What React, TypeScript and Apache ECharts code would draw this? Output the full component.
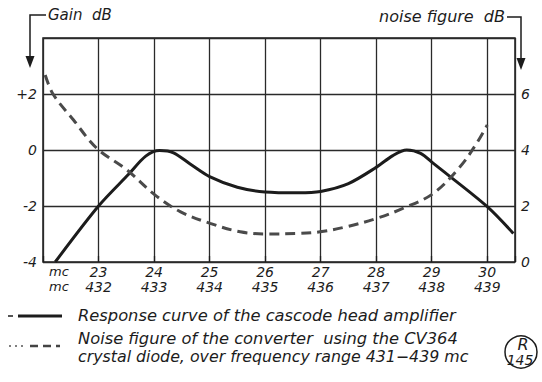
import React, { useEffect, useRef } from "react";
import * as echarts from "echarts";

const gainX = [22.22, 23.0, 23.55, 23.85, 24.1, 24.35, 24.65, 25.0, 25.5, 26.0, 26.6, 27.0, 27.5, 28.0, 28.3, 28.55, 28.8, 29.03, 30.0, 30.47];
const gainY = [-4, -2, -0.85, -0.22, -0.02, -0.1, -0.5, -0.95, -1.33, -1.5, -1.53, -1.48, -1.2, -0.62, -0.2, 0, -0.12, -0.48, -2.02, -2.98];

const noiseX = [22.04, 22.18, 22.55, 22.97, 23.51, 24.02, 24.47, 25.01, 25.55, 26.03, 26.6, 26.99, 27.47, 28.01, 28.49, 29.03, 29.51, 29.81, 30.0];
const noiseY = [6.68, 6.0, 5.07, 4.06, 3.29, 2.39, 1.8, 1.38, 1.08, 1.0, 1.02, 1.08, 1.26, 1.56, 1.92, 2.45, 3.4, 4.24, 4.89];

const xTicks = [23, 24, 25, 26, 27, 28, 29, 30];
const xTicksMc = [432, 433, 434, 435, 436, 437, 438, 439];
const gainTickLabels: Record<string, string> = { "-4": "-4", "-2": "-2", "0": "0", "2": "+2", "4": "" };
const noiseTickLabels: Record<string, string> = { "0": "0", "2": "2", "4": "4", "6": "6", "8": "" };

const legendSolid = "Response curve of the cascode head amplifier";
const legendDashed1 = "Noise figure of the converter  using the CV364";
const legendDashed2 = "crystal diode, over frequency range 431\u2212439 mc";

const FONT = "DejaVu Sans";
const INK = "#1c1c1c";

export default function App() {
  const ref = useRef<HTMLDivElement>(null);
  useEffect(() => {
    if (!ref.current) return;
    const chart = echarts.init(ref.current, undefined, { renderer: "svg" });
    const txt = (x: number, y: number, text: string, size: number, extra: any = {}) => ({
      type: "text",
      x,
      y,
      style: {
        text,
        fill: INK,
        fontFamily: FONT,
        fontStyle: "italic",
        fontSize: size,
        verticalAlign: "middle",
        ...extra,
      },
    });
    chart.setOption({
      animation: false,
      backgroundColor: "#ffffff",
      grid: {
        left: 43,
        right: 27,
        top: 38,
        bottom: 120,
        show: true,
        borderColor: INK,
        borderWidth: 1.5,
        containLabel: false,
      },
      xAxis: [
        {
          type: "value",
          min: 22,
          max: 30.5,
          interval: 1,
          axisLine: { show: false },
          axisTick: { show: false },
          splitLine: { show: true, lineStyle: { color: "#2a2a2a", width: 1.3 } },
          axisLabel: {
            margin: 2,
            color: INK,
            fontFamily: FONT,
            fontStyle: "italic",
            fontSize: 14,
            lineHeight: 15,
            formatter: (v: number) => {
              const i = xTicks.indexOf(v);
              return i >= 0 ? `${xTicks[i]}\n${xTicksMc[i]}` : "";
            },
          },
        },
        {
          type: "value",
          position: "top",
          min: 22,
          max: 30.5,
          interval: 1,
          axisLine: { show: false },
          axisTick: { show: true, inside: false, length: 6, lineStyle: { color: INK, width: 1.3 } },
          axisLabel: { show: false },
          splitLine: { show: false },
        },
      ],
      yAxis: [
        {
          type: "value",
          min: -4,
          max: 4,
          interval: 2,
          axisLine: { show: false },
          axisTick: { show: false },
          splitLine: { show: true, lineStyle: { color: "#2a2a2a", width: 1.3 } },
          axisLabel: {
            margin: 6,
            color: INK,
            fontFamily: FONT,
            fontStyle: "italic",
            fontSize: 14,
            formatter: (v: number) => gainTickLabels[String(v)] ?? "",
          },
        },
        {
          type: "value",
          min: 0,
          max: 8,
          interval: 2,
          position: "right",
          axisLine: { show: false },
          axisTick: { show: false },
          splitLine: { show: false },
          axisLabel: {
            margin: 6,
            color: INK,
            fontFamily: FONT,
            fontStyle: "italic",
            fontSize: 14,
            formatter: (v: number) => noiseTickLabels[String(v)] ?? "",
          },
        },
      ],
      series: [
        {
          type: "line",
          name: "gain",
          data: gainX.map((x, i) => [x, gainY[i]]),
          smooth: 0.3,
          showSymbol: false,
          lineStyle: { color: INK, width: 3 },
          xAxisIndex: 0,
          yAxisIndex: 0,
        },
        {
          type: "line",
          name: "noise",
          data: noiseX.map((x, i) => [x, noiseY[i]]),
          smooth: 0.35,
          showSymbol: false,
          lineStyle: { color: "#4a4a4a", width: 3, type: [10, 6] },
          xAxisIndex: 0,
          yAxisIndex: 1,
        },
      ],
      graphic: [
        // top annotations
        { type: "polyline", shape: { points: [[46, 15], [30, 15], [30, 60]] }, style: { stroke: INK, lineWidth: 1.5, fill: null } },
        { type: "polygon", shape: { points: [[25.5, 56], [34.5, 56], [30, 68]] }, style: { fill: INK } },
        txt(48, 15, "Gain  dB", 15),
        txt(505, 16, "noise figure  dB", 16, { align: "right" }),
        { type: "polyline", shape: { points: [[507, 17], [521, 17], [521, 62]] }, style: { stroke: INK, lineWidth: 1.5, fill: null } },
        { type: "polygon", shape: { points: [[516.5, 58], [525.5, 58], [521, 70]] }, style: { fill: INK } },
        // mc labels
        txt(49, 271, "mc", 13),
        txt(49, 286, "mc", 13),
        // legend
        { type: "line", shape: { x1: 8, y1: 316, x2: 13, y2: 316 }, style: { stroke: INK, lineWidth: 1.5 } },
        { type: "line", shape: { x1: 18, y1: 316, x2: 62, y2: 316 }, style: { stroke: INK, lineWidth: 3 } },
        txt(78, 315, legendSolid, 16.3),
        { type: "line", shape: { x1: 9, y1: 346, x2: 26, y2: 346 }, style: { stroke: "#555", lineWidth: 1.5, lineDash: [2, 4] } },
        { type: "line", shape: { x1: 30, y1: 346, x2: 60, y2: 346 }, style: { stroke: "#444", lineWidth: 2.5, lineDash: [8, 5] } },
        txt(78, 338, legendDashed1, 16.3),
        txt(78, 356, legendDashed2, 15.8),
        // badge
        { type: "circle", shape: { cx: 521, cy: 352, r: 16 }, style: { stroke: INK, lineWidth: 1.5, fill: null } },
        txt(523, 344, "R", 16, { align: "center" }),
        txt(520, 360, "145", 14, { align: "center" }),
      ],
    });
    return () => chart.dispose();
  }, []);
  return <div ref={ref} style={{ position: "fixed", left: 0, top: 0, width: 542, height: 382 }} />;
}
